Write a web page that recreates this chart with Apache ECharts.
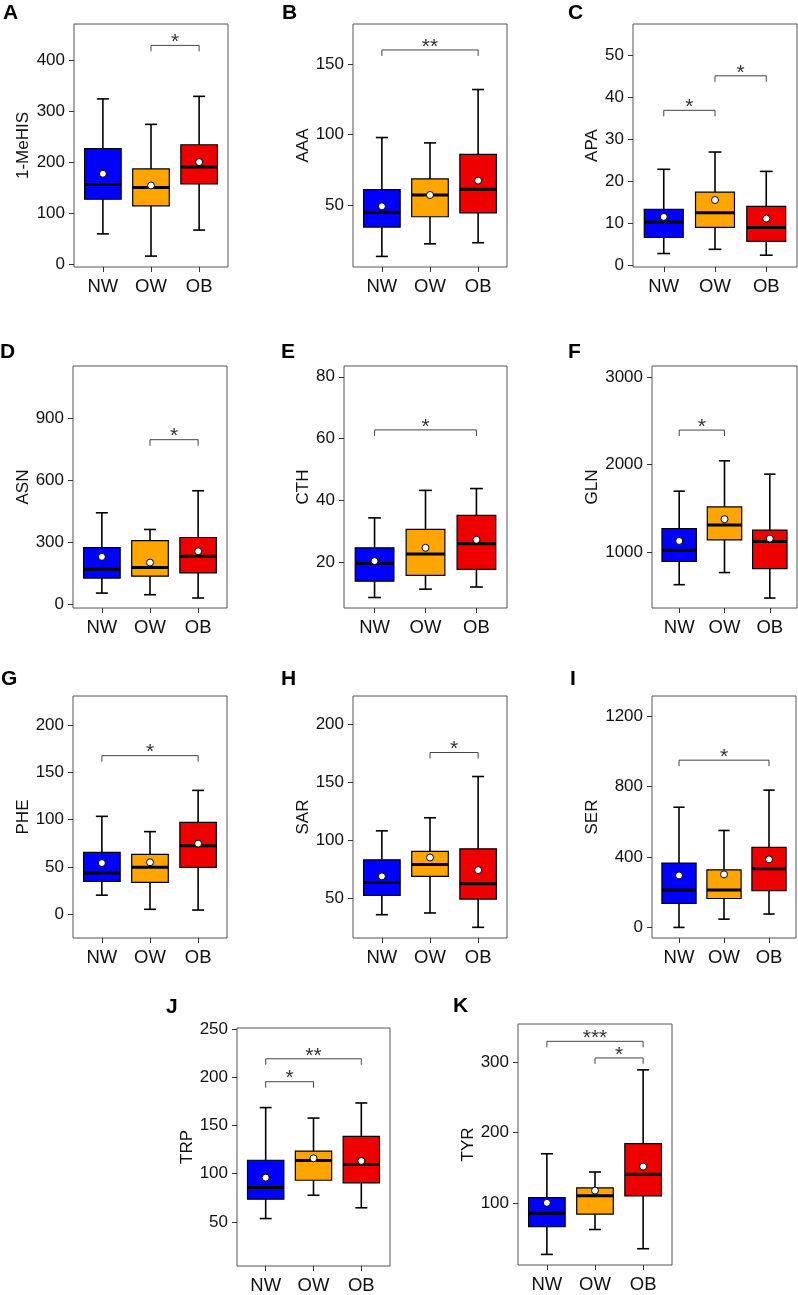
<!DOCTYPE html>
<html>
<head>
<meta charset="utf-8">
<script src="https://cdn.jsdelivr.net/npm/echarts@6/dist/echarts.min.js"></script>
<style>
html,body{margin:0;padding:0;background:#fff;}
#chart{width:798px;height:1295px;}
</style>
</head>
<body>
<div id="chart"></div>
<script>
// ---------- data ----------
const groups = ['NW', 'OW', 'OB'];

// box stats per group: [lower whisker, Q1, median, Q3, upper whisker]
const A_box = [[60, 128, 157, 227.5, 325], [16.4, 114.8, 151, 187.5, 275], [67.5, 158, 191.5, 235, 330]];
const A_mean = [178, 155, 201];
const A_sig = [[1, 2, 430, '*']];
const A_ticks = [0, 100, 200, 300, 400];
const A_range = [-5, 472];

const B_box = [[13.8, 34.6, 45, 61.1, 98], [22.7, 41.9, 57.3, 68.7, 94.2], [23.5, 44.6, 61.3, 86, 132]];
const B_mean = [49.3, 57.3, 67.5];
const B_sig = [[0, 2, 160, '**']];
const B_ticks = [50, 100, 150];
const B_range = [6.3, 178.4];

const C_box = [[2.9, 6.7, 10.4, 13.4, 22.9], [3.9, 9.1, 12.6, 17.5, 27], [2.5, 5.8, 9.1, 14.1, 22.4]];
const C_mean = [11.6, 15.6, 11.2];
const C_sig = [[0, 1, 36.9, '*'], [1, 2, 45.1, '*']];
const C_ticks = [0, 10, 20, 30, 40, 50];
const C_range = [-0.3, 57.4];

const D_box = [[53, 126, 169, 274, 443], [45, 135, 177, 308, 362], [29, 151, 232, 323, 550]];
const D_mean = [229, 201, 256];
const D_sig = [[1, 2, 798, '*']];
const D_ticks = [0, 300, 600, 900];
const D_range = [-19.5, 1156];

const E_box = [[8.5, 13.8, 19.6, 24.6, 34.3], [11.2, 15.7, 22.6, 30.6, 43.2], [11.9, 17.6, 25.9, 35.1, 43.8]];
const E_mean = [20.3, 24.6, 27.2];
const E_sig = [[0, 2, 62.8, '*']];
const E_ticks = [20, 40, 60, 80];
const E_range = [5.1, 83.5];

const F_box = [[625, 893, 1019, 1268, 1696], [764, 1138, 1310, 1516, 2044], [472, 809, 1119, 1249, 1891]];
const F_mean = [1126, 1375, 1153];
const F_sig = [[0, 1, 2396, '*']];
const F_ticks = [1000, 2000, 3000];
const F_range = [358, 3130];

const G_box = [[20, 34.6, 43.5, 65.4, 103.5], [5, 33.6, 49.5, 63.3, 87.3], [4.2, 49.5, 72.4, 97.2, 131]];
const G_mean = [54, 54.8, 74.6];
const G_sig = [[0, 2, 167.8, '*']];
const G_ticks = [0, 50, 100, 150, 200];
const G_range = [-25.4, 231];

const H_box = [[35.6, 52.3, 63.5, 83, 108], [37.1, 68.7, 79, 90.2, 119.3], [24.7, 49.1, 62.4, 92.5, 154.9]];
const H_mean = [68.7, 85, 74.1];
const H_sig = [[1, 2, 175.6, '*']];
const H_ticks = [50, 100, 150, 200];
const H_range = [15.5, 224.4];

const I_box = [[0, 136, 212, 365, 682], [47, 164, 212, 327, 550], [76, 208, 333, 454, 779]];
const I_mean = [295, 301, 386];
const I_sig = [[0, 2, 949, '*']];
const I_ticks = [0, 400, 800, 1200];
const I_range = [-60, 1313];

const J_box = [[53.4, 73.5, 85.7, 114, 168.7], [77.6, 93.2, 113.6, 123.5, 157.8], [64.6, 90.5, 109.5, 138.8, 173.5]];
const J_mean = [95.9, 116, 113.3];
const J_sig = [[0, 1, 195.6, '*'], [0, 2, 219.4, '**']];
const J_ticks = [50, 100, 150, 200, 250];
const J_range = [4.1, 251.4];

const K_box = [[26.5, 65.9, 85.3, 107.6, 170], [62, 83.9, 110, 121.3, 144], [34.6, 110, 140.8, 184.4, 289.6]];
const K_mean = [100, 117.5, 151.7];
const K_sig = [[0, 2, 330.3, '***'], [1, 2, 306.6, '*']];
const K_ticks = [100, 200, 300];
const K_range = [11.4, 355];

// ---------- panels (layout) ----------
const panels = [
  {id: 'A', title: '1-MeHIS', box: A_box, mean: A_mean, sig: A_sig, ticks: A_ticks, range: A_range, grid: [74, 24, 154, 243], letter: [3, 14], gap: 42},
  {id: 'B', title: 'AAA', box: B_box, mean: B_mean, sig: B_sig, ticks: B_ticks, range: B_range, grid: [353, 24, 154, 243], letter: [282, 14], gap: 41},
  {id: 'C', title: 'APA', box: C_box, mean: C_mean, sig: C_sig, ticks: C_ticks, range: C_range, grid: [633, 24, 164, 243], letter: [568, 14], gap: 30},
  {id: 'D', title: 'ASN', box: D_box, mean: D_mean, sig: D_sig, ticks: D_ticks, range: D_range, grid: [73, 366, 154, 242], letter: [0, 353], gap: 40},
  {id: 'E', title: 'CTH', box: E_box, mean: E_mean, sig: E_sig, ticks: E_ticks, range: E_range, grid: [344, 366, 163, 242], letter: [281, 353], gap: 32},
  {id: 'F', title: 'GLN', box: F_box, mean: F_mean, sig: F_sig, ticks: F_ticks, range: F_range, grid: [652, 366, 145, 242], letter: [568, 353], gap: 51},
  {id: 'G', title: 'PHE', box: G_box, mean: G_mean, sig: G_sig, ticks: G_ticks, range: G_range, grid: [73, 696, 154, 242], letter: [1, 680], gap: 41},
  {id: 'H', title: 'SAR', box: H_box, mean: H_mean, sig: H_sig, ticks: H_ticks, range: H_range, grid: [353, 696, 154, 242], letter: [281, 680], gap: 41},
  {id: 'I', title: 'SER', box: I_box, mean: I_mean, sig: I_sig, ticks: I_ticks, range: I_range, grid: [652, 696, 144, 242], letter: [570, 680], gap: 50},
  {id: 'J', title: 'TRP', box: J_box, mean: J_mean, sig: J_sig, ticks: J_ticks, range: J_range, grid: [237, 1028, 153, 242], letter: [166, 1008], gap: 41},
  {id: 'K', title: 'TYR', box: K_box, mean: K_mean, sig: K_sig, ticks: K_ticks, range: K_range, grid: [518, 1024, 154, 241], letter: [453, 1007], gap: 41}
];

// ---------- style ----------
const FONT = '"Liberation Sans", Arial, Helvetica, sans-serif';
const groupColors = ['#0000FF', '#FFA500', '#EE0000'];
const FRAME = '#555555';
const TICK = '#333333';
const TXT = '#111111';

function renderBox(params, api) {
  const x = api.value(0);
  const c = k => api.coord([x, api.value(k)]);
  const low = c(1), q1 = c(2), med = c(3), q3 = c(4), high = c(5);
  const unit = api.size([1, 0])[0];
  const bw = unit * 0.76, cw = unit * 0.25;
  const cx = low[0];
  const ls = {stroke: '#000', lineWidth: 1.6};
  return {
    type: 'group',
    children: [
      {type: 'line', shape: {x1: cx, y1: high[1], x2: cx, y2: q3[1]}, style: ls},
      {type: 'line', shape: {x1: cx, y1: q1[1], x2: cx, y2: low[1]}, style: ls},
      {type: 'line', shape: {x1: cx - cw / 2, y1: high[1], x2: cx + cw / 2, y2: high[1]}, style: ls},
      {type: 'line', shape: {x1: cx - cw / 2, y1: low[1], x2: cx + cw / 2, y2: low[1]}, style: ls},
      {type: 'rect', shape: {x: cx - bw / 2, y: q3[1], width: bw, height: q1[1] - q3[1]},
        style: {fill: groupColors[Math.round(x) - 1], stroke: '#000', lineWidth: 1.2}},
      {type: 'line', shape: {x1: cx - bw / 2, y1: med[1], x2: cx + bw / 2, y2: med[1]},
        style: {stroke: '#000', lineWidth: 3}}
    ]
  };
}

function makeSigRenderer(p) {
  return function (params, api) {
    const a = api.coord([api.value(0), api.value(2)]);
    const b = api.coord([api.value(1), api.value(2)]);
    const tip = 6;
    return {
      type: 'group',
      children: [
        {type: 'polyline',
          shape: {points: [[a[0], a[1] + tip], [a[0], a[1]], [b[0], b[1]], [b[0], b[1] + tip]]},
          style: {stroke: '#444', lineWidth: 1, fill: null}},
        {type: 'text',
          style: {x: (a[0] + b[0]) / 2, y: a[1] + 7.5, text: p.sig[params.dataIndex][3],
            textAlign: 'center', textVerticalAlign: 'bottom',
            fontSize: 21, fontFamily: FONT, fill: '#333'}}
      ]
    };
  };
}

const grid = [], xAxis = [], yAxis = [], series = [], graphic = [];
panels.forEach((p, i) => {
  grid.push({left: p.grid[0], top: p.grid[1], width: p.grid[2], height: p.grid[3],
    show: true, borderColor: FRAME, borderWidth: 1, backgroundColor: 'transparent'});
  xAxis.push({
    gridIndex: i, type: 'value', min: 0.4, max: 3.6, position: 'bottom',
    axisLine: {show: false, onZero: false}, splitLine: {show: false},
    axisTick: {show: true, length: 5, customValues: [1, 2, 3], lineStyle: {color: TICK, width: 1}},
    axisLabel: {customValues: [1, 2, 3], formatter: v => groups[Math.round(v) - 1],
      fontSize: 18.5, color: TXT, margin: 10, fontFamily: FONT}
  });
  yAxis.push({
    gridIndex: i, type: 'value', min: p.range[0], max: p.range[1], position: 'left',
    name: p.title, nameLocation: 'middle', nameGap: p.gap, nameRotate: 90,
    nameTextStyle: {fontSize: 17, color: TXT, fontFamily: FONT},
    axisLine: {show: false, onZero: false}, splitLine: {show: false},
    axisTick: {show: true, length: 5, customValues: p.ticks, lineStyle: {color: TICK, width: 1}},
    axisLabel: {customValues: p.ticks, formatter: v => String(v),
      fontSize: 17, color: TXT, margin: 9, fontFamily: FONT}
  });
  series.push({
    type: 'custom', xAxisIndex: i, yAxisIndex: i,
    renderItem: renderBox,
    encode: {x: 0, y: [1, 2, 3, 4, 5]},
    data: p.box.map((s, j) => [j + 1].concat(s)),
    z: 2
  });
  series.push({
    type: 'scatter', xAxisIndex: i, yAxisIndex: i,
    symbol: 'circle', symbolSize: 7,
    itemStyle: {color: '#fff', borderColor: '#000', borderWidth: 1, opacity: 1},
    data: p.mean.map((m, j) => [j + 1, m]),
    z: 5
  });
  series.push({
    type: 'custom', xAxisIndex: i, yAxisIndex: i,
    renderItem: makeSigRenderer(p),
    encode: {x: [0, 1], y: 2},
    data: p.sig.map(s => [s[0] + 1, s[1] + 1, s[2]]),
    z: 3
  });
  graphic.push({
    type: 'text', left: p.letter[0], top: p.letter[1] - 11,
    style: {text: p.id, fontSize: 21, fontWeight: 'bold', fontFamily: FONT, fill: '#000'}
  });
});

const chart = echarts.init(document.getElementById('chart'), null, {renderer: 'canvas'});
chart.setOption({
  animation: false,
  backgroundColor: '#fff',
  textStyle: {fontFamily: FONT},
  grid, xAxis, yAxis, series, graphic
});
</script>
</body>
</html>
